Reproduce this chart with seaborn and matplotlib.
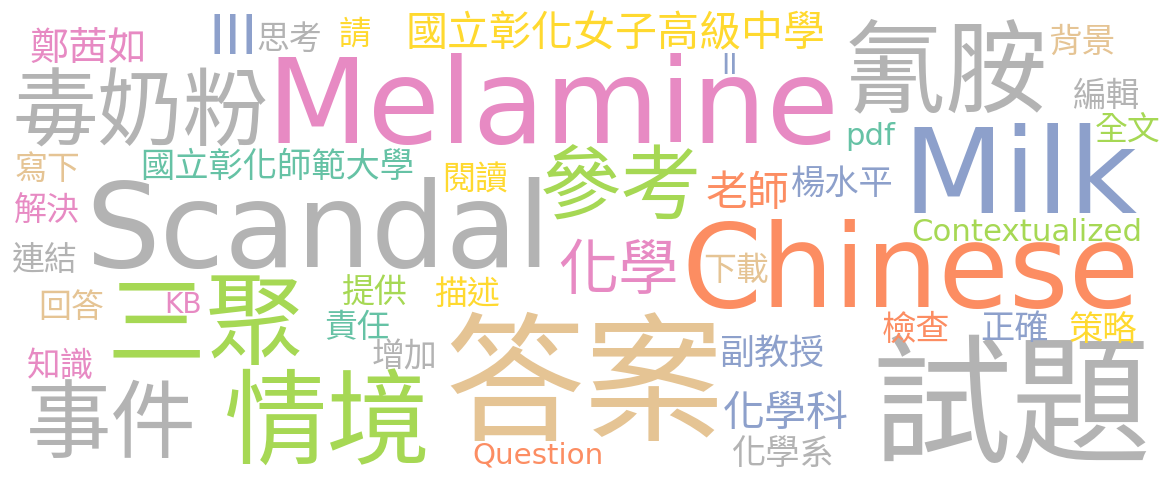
import matplotlib
matplotlib.use("Agg")
import matplotlib.pyplot as plt
import seaborn as sns

sns.set_theme(style="white")
plt.rcParams['font.family'] = ['Noto Sans CJK TC', 'DejaVu Sans']

# Words and their relative weight (biggest word = 1.0)
words = ['答案', '試題', 'Melamine', 'Scandal', 'Chinese', 'Milk', '情境', '氰胺',
         '三聚', '毒奶粉', '事件', '參考', '化學', 'III', '老師', '國立彰化女子高級中學',
         '化學科', '鄭茜如', '副教授', '國立彰化師範大學', '楊水平', '化學系', '檢查', '正確',
         '策略', '背景', '編輯', '全文', '知識', '思考', '閱讀', '寫下', '解決', '連結',
         '回答', '提供', '描述', '責任', '增加', '下載', '請', 'Contextualized', 'pdf',
         'Question', 'KB', 'II']
weights = [1.0, 1.0, 0.84, 0.84, 0.82, 0.84, 0.74, 0.73,
           0.71, 0.61, 0.61, 0.58, 0.43, 0.40, 0.30, 0.30,
           0.30, 0.28, 0.25, 0.245, 0.245, 0.245, 0.245, 0.245,
           0.245, 0.24, 0.24, 0.235, 0.24, 0.235, 0.235, 0.235, 0.235, 0.235,
           0.235, 0.235, 0.235, 0.235, 0.235, 0.235, 0.23, 0.22, 0.22,
           0.21, 0.20, 0.20]
word_colors = ['tan', 'gray', 'pink', 'gray', 'orange', 'blue', 'green', 'gray',
               'green', 'gray', 'gray', 'green', 'pink', 'blue', 'orange', 'yellow',
               'blue', 'pink', 'blue', 'teal', 'blue', 'gray', 'orange', 'blue',
               'yellow', 'tan', 'gray', 'green', 'pink', 'gray', 'yellow', 'tan', 'pink', 'gray',
               'tan', 'green', 'yellow', 'teal', 'gray', 'tan', 'yellow', 'green', 'teal',
               'orange', 'pink', 'blue']

# Layout: (x centre, y centre of glyphs) in image pixels
layout = [(584, 380), (1011, 402), (553, 100), (318, 224), (911, 265), (1020, 170),
          (328, 420), (946, 68), (206, 322), (141, 109), (111, 421), (621, 185),
          (618, 268), (233, 34), (748, 191), (616, 31), (786, 411), (88, 46),
          (772, 351), (277, 165), (842, 182), (783, 452), (916, 328), (1015, 327),
          (1103, 328), (1082, 40), (1107, 94), (1128, 128), (61, 364), (289, 37),
          (475, 178), (47, 167), (47, 209), (45, 258), (71, 305), (374, 291),
          (467, 292), (357, 325), (405, 355), (736, 268), (355, 32), (1027, 230),
          (870, 134), (538, 453), (183, 303), (729, 64)]

MAX_EM = 140  # pixel em of the biggest word
set2 = sns.color_palette("Set2")
palette = dict(zip(['teal', 'orange', 'blue', 'pink', 'green', 'yellow', 'tan', 'gray'], set2))

W, H, DPI = 1175, 482, 100
fig = plt.figure(figsize=(W / DPI, H / DPI), dpi=DPI)
ax = fig.add_axes([0, 0, 1, 1])
ax.set_xlim(0, W)
ax.set_ylim(H, 0)
ax.axis('off')

for word, w, c, (x, y) in zip(words, weights, word_colors, layout):
    em = MAX_EM * w
    if word.isascii():
        # cap height of DejaVu Sans is ~0.73 em
        base = y + 0.365 * em
        fam = ['DejaVu Sans']
    else:
        # CJK ideographs sit ~0.36 em above the baseline
        base = y + 0.355 * em
        fam = ['Noto Sans CJK TC', 'DejaVu Sans']
    ax.text(x, base, word, fontsize=em * 72 / DPI, color=palette[c],
            ha='center', va='baseline', family=fam)

fig.savefig('out.png', dpi=DPI, facecolor='white')
